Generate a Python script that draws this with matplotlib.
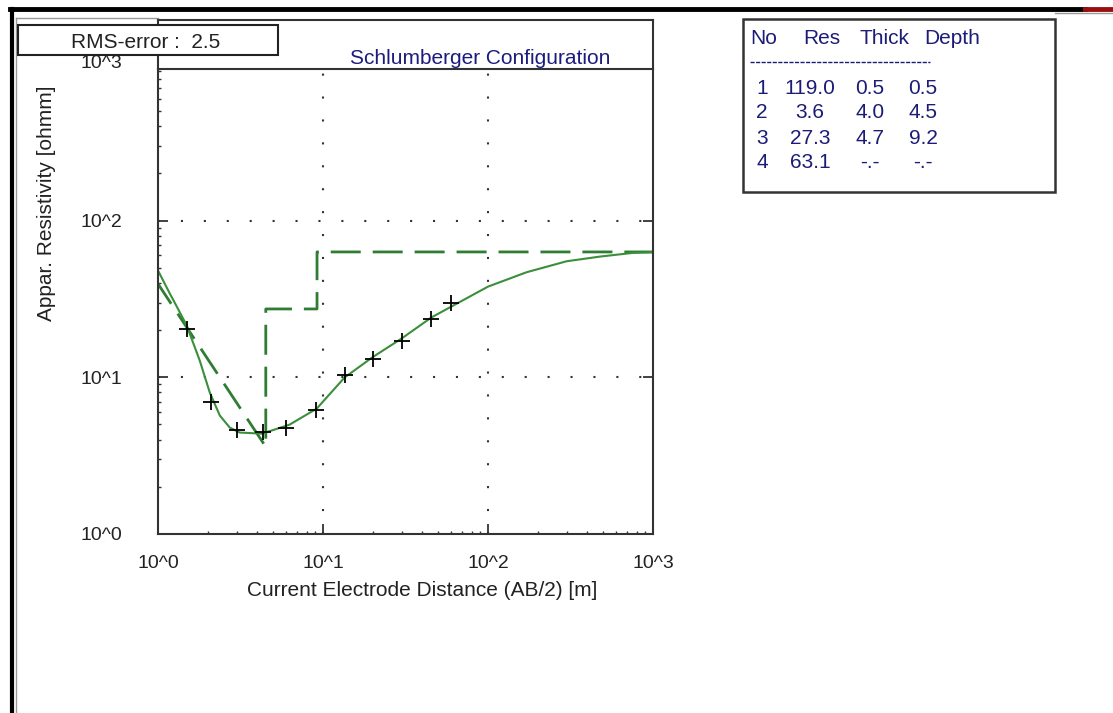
import numpy as np
import matplotlib
matplotlib.use("Agg")
import matplotlib.pyplot as plt
from matplotlib.lines import Line2D
from matplotlib.patches import Rectangle
from matplotlib import transforms

plt.rcParams['font.family'] = ['Liberation Sans', 'DejaVu Sans']

# measured sounding (AB/2 in m, apparent resistivity in ohmm)
ab2 = [1.5, 2.1, 3.0, 4.3, 6.0, 9.1, 13.6, 20.0, 30.0, 45.0, 60.0]
rho_meas = [20.4, 7.0, 4.62, 4.46, 4.73, 6.22, 10.3, 13.1, 17.1, 23.6, 29.7]

# calculated curve of the model
ab2_calc = [1.0, 1.18, 1.29, 1.49, 1.79, 2.06, 2.37, 2.72, 3.13, 4.25, 5.09, 6.28,
            9.16, 13.5, 19.9, 30.0, 45.4, 100, 171, 299, 475, 753, 1000]
rho_calc = [48.0, 34.2, 28.7, 21.5, 12.8, 7.99, 5.70, 4.78, 4.44, 4.37, 4.64, 4.99,
            6.31, 9.96, 13.4, 17.7, 24.1, 37.9, 46.8, 55.0, 58.9, 62.2, 62.8]

# layer model
layer_no = [1, 2, 3, 4]
layer_res = [119.0, 3.6, 27.3, 63.1]
layer_thick = [0.5, 4.0, 4.7, None]
layer_depth = [0.5, 4.5, 9.2, None]

rms_error = 2.5
x_ticks = [1, 10, 100, 1000]
y_ticks = [1, 10, 100]

W, H = 1113, 713
fig = plt.figure(figsize=(W / 100, H / 100), dpi=100)
fig.patch.set_facecolor('white')


def fx(x):
    return x / W


def fy(y):
    return 1 - y / H


def fline(xs, ys, **kw):
    fig.add_artist(Line2D([fx(v) for v in xs], [fy(v) for v in ys],
                          transform=fig.transFigure, **kw))


# screen frame pieces
fline([10, 1085], [9, 9], color='black', lw=3.5)
fline([1085, 1113], [9, 9], color='#9a1010', lw=3.5)
fline([12, 12], [9, 713], color='black', lw=3)
fline([16, 16], [18, 713], color='#9a9a9a', lw=1)
fline([16, 158], [18, 18], color='#9a9a9a', lw=1)
fline([1055, 1113], [13, 13], color='#9a9a9a', lw=1)

ax_left, ax_right, ax_top, ax_bot = 158, 653, 69, 534
ax = fig.add_axes([fx(ax_left), fy(ax_bot), (ax_right - ax_left) / W, (ax_bot - ax_top) / H])

# title box above the plot
fline([ax_left, ax_right], [20, 20], color='#333333', lw=1.5)
fline([ax_left, ax_left], [20, ax_top], color='#333333', lw=1.5)
fline([ax_right, ax_right], [20, ax_top], color='#333333', lw=1.5)
fig.text(fx(480), fy(58), 'Schlumberger Configuration', color='#1c1c80',
         fontsize=15, ha='center', va='center')

ax.set_xscale('log')
ax.set_yscale('log')
ax.set_xlim(1, 1000)
ax.set_ylim(1, 10 ** ((ax_bot - ax_top) / 156.7))

# model step line
sx = [layer_depth[0]]
sy = [layer_res[0]]
for i in range(1, len(layer_res) - 1):
    sx += [layer_depth[i], layer_depth[i]]
    sy += [layer_res[i], layer_res[i + 1]]
sx.append(1000)
sy.append(layer_res[-1])
ax.plot(sx, sy, color='#2f7d32', lw=2, linestyle=(0, (10.8, 4.3)))

ax.plot(ab2_calc, rho_calc, color='#3b8f3b', lw=1.5)
ax.plot(ab2, rho_meas, linestyle='none', marker='+', color='black', ms=11, mew=1.3)

# dotted grid at decades
for v in [10, 100]:
    ax.axvline(v, color='#333333', lw=1.5, linestyle=(0, (1, 10)), zorder=0)
    ax.axhline(v, color='#333333', lw=1.5, linestyle=(0, (1, 10)), zorder=0)

for s in ax.spines.values():
    s.set_color('#333333')
    s.set_linewidth(1.5)

fmt = matplotlib.ticker.FuncFormatter(lambda v, p: '10^%d' % int(round(np.log10(v))))
ax.set_xticks(x_ticks)
ax.set_yticks(y_ticks)
ax.xaxis.set_major_formatter(fmt)
ax.yaxis.set_major_formatter(fmt)
ax.xaxis.set_minor_formatter(matplotlib.ticker.NullFormatter())
ax.yaxis.set_minor_formatter(matplotlib.ticker.NullFormatter())
ax.tick_params(which='major', direction='in', length=7, width=1.3, colors='#333333',
               labelcolor='#222222', labelsize=14, right=True, top=False)
ax.tick_params(which='minor', direction='in', length=2, width=1, colors='#333333',
               right=False, top=False)
ax.tick_params(axis='y', which='major', pad=26)
ax.tick_params(axis='x', which='major', pad=15)

# 10^3 label sits above the drawn range
yt = transforms.blended_transform_factory(ax.transAxes, ax.transData)
ax.text(-26 / 72 * 100 / (ax_right - ax_left), 1000, '10^3', transform=yt, clip_on=False,
        ha='right', va='center', fontsize=14, color='#222222')

fig.text(fx(422), fy(590), 'Current Electrode Distance (AB/2) [m]', fontsize=15,
         color='#222222', ha='center', va='center')
fig.text(fx(47), fy(203), 'Appar. Resistivity [ohmm]', fontsize=15, color='#222222',
         ha='center', va='center', rotation=90)

# RMS box
fig.add_artist(Rectangle((fx(18), fy(55)), (278 - 18) / W, 30 / H, transform=fig.transFigure,
                         facecolor='white', edgecolor='#222222', lw=1.5, zorder=5))
fig.text(fx(146), fy(42), 'RMS-error :  %.1f' % rms_error, fontsize=15, color='#222222',
         ha='center', va='center', zorder=6)

# layer table
fig.add_artist(Rectangle((fx(743), fy(192)), (1055 - 743) / W, (192 - 19) / H,
                         transform=fig.transFigure, facecolor='white',
                         edgecolor='#333333', lw=1.8))
navy = '#1c1c78'
hdr_x = [764, 822, 884, 952]
for h, x in zip(['No', 'Res', 'Thick', 'Depth'], hdr_x):
    fig.text(fx(x), fy(38), h, fontsize=15, color=navy, ha='center', va='center')
fline([750, 930], [62, 62], color=navy, lw=1, linestyle=(0, (3, 1)))
col_x = [762, 810, 870, 923]


def cell(v):
    return '-.-' if v is None else '%.1f' % v


for r in range(len(layer_no)):
    y = 88 + 25 * r
    vals = [str(layer_no[r]), cell(layer_res[r]), cell(layer_thick[r]), cell(layer_depth[r])]
    for v, x in zip(vals, col_x):
        fig.text(fx(x), fy(y), v, fontsize=15, color=navy, ha='center', va='center')

fig.savefig('out.png', dpi=100)
